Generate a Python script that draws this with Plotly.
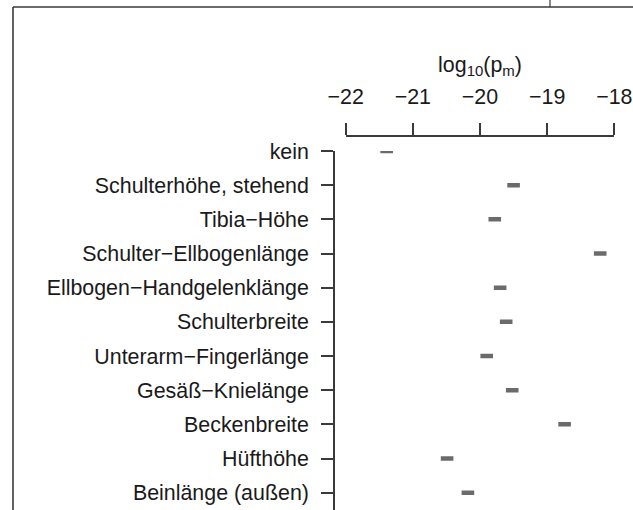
import plotly.graph_objects as go

categories = ["kein", "Schulterhöhe, stehend", "Tibia−Höhe", "Schulter−Ellbogenlänge",
              "Ellbogen−Handgelenklänge", "Schulterbreite", "Unterarm−Fingerlänge",
              "Gesäß−Knielänge", "Beckenbreite", "Hüfthöhe", "Beinlänge (außen)"]
log_pm = [-21.39, -19.50, -19.78, -18.21, -19.70, -19.61, -19.90, -19.52, -18.74, -20.49, -20.18]
x_ticks = [-22, -21, -20, -19, -18]
x_ticktext = ["−22", "−21", "−20", "−19", "−18"]

W, H = 633, 510
FONT = "Liberation Sans, Arial, sans-serif"
AX = "#3a3a3a"


def px(x):
    return x / W


def py(y):
    return (H - y) / H


fig = go.Figure(go.Scatter(
    x=log_pm, y=categories, mode="markers",
    marker=dict(symbol="line-ew", size=9, line=dict(width=4.5, color="#6b6b6b"), color="#6b6b6b"),
    hoverinfo="x+y", showlegend=False,
))

x0, x1 = 345.7, 614.3
ytop = 151.0
spacing = 34.17
fig.update_layout(
    width=W, height=H,
    margin=dict(l=0, r=0, t=0, b=0, autoexpand=False),
    paper_bgcolor="white", plot_bgcolor="white",
    font=dict(family=FONT, size=21.4, color="#1a1a1a"),
    xaxis=dict(
        domain=[px(x0), px(x1)], range=[-22, -18], side="top",
        anchor="free", position=py(135.7), automargin=False,
        tickvals=x_ticks, ticktext=x_ticktext,
        showline=True, linecolor=AX, linewidth=1.6,
        ticks="outside", ticklen=12, tickwidth=1.6, tickcolor=AX,
        showgrid=False, zeroline=False,
        title=dict(text="log<sub>10</sub>(p<sub>m</sub>)", font=dict(size=21.4), standoff=6),
        tickfont=dict(size=21.4), ticklabelstandoff=10,
    ),
    yaxis=dict(
        domain=[0, py(ytop)], type="category",
        categoryorder="array", categoryarray=categories,
        range=[(H - ytop) / spacing, 0],
        anchor="free", position=px(334), automargin=False,
        showline=True, linecolor=AX, linewidth=1.6,
        ticks="outside", ticklen=12, tickwidth=1.6, tickcolor=AX,
        showgrid=False, zeroline=False,
        tickfont=dict(size=21.4), ticklabelstandoff=8,
    ),
)

ly = py(7)
fig.add_shape(type="line", xref="paper", yref="paper", x0=px(13), x1=1, y0=ly, y1=ly,
              line=dict(color=AX, width=1.6))
fig.add_shape(type="line", xref="paper", yref="paper", x0=px(13), x1=px(13), y0=ly, y1=0,
              line=dict(color=AX, width=1.6))
fig.add_shape(type="line", xref="paper", yref="paper", x0=px(550), x1=px(550), y0=1, y1=ly,
              line=dict(color=AX, width=1.2))

# remove the default page margin so the figure fills the window exactly
fig.write_html("out.html",
               config={"displayModeBar": False},
               post_script="document.body.style.margin='0';document.body.style.overflow='hidden';")
